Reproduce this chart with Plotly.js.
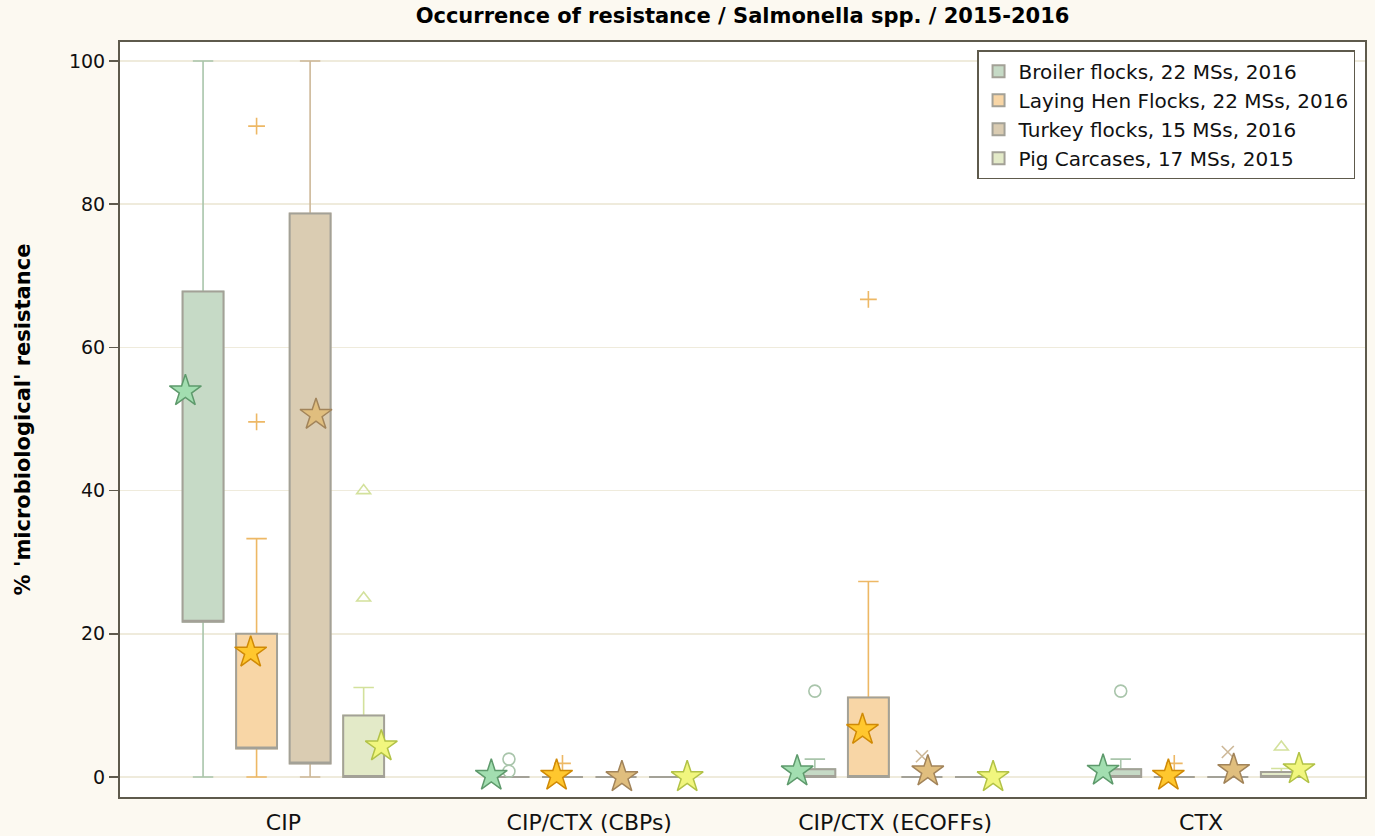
<!DOCTYPE html>
<html>
<head>
<meta charset="utf-8">
<script src="https://cdn.plot.ly/plotly-3.0.1.min.js"></script>
<style>html,body{margin:0;padding:0;background:#FCF9F1;}</style>
</head>
<body>
<div id="chart" style="width:1375px;height:836px;"></div>
<script>
// ---------- DATA ----------
const categories = ['CIP', 'CIP/CTX (CBPs)', 'CIP/CTX (ECOFFs)', 'CTX'];
const seriesNames = [
  'Broiler flocks, 22 MSs, 2016',
  'Laying Hen Flocks, 22 MSs, 2016',
  'Turkey flocks, 15 MSs, 2016',
  'Pig Carcases, 17 MSs, 2015'
];

// Broiler flocks
const broilerQ1 = [21.7, 0, 0, 0];
const broilerQ3 = [67.8, 0, 1.1, 1.1];
const broilerLow = [0, 0, 0, 0];
const broilerHigh = [100, 0, 2.5, 2.5];
const broilerMean = [53.9, 0.2, 0.8, 0.9];
const broilerOutCat = ['CIP/CTX (CBPs)', 'CIP/CTX (CBPs)', 'CIP/CTX (ECOFFs)', 'CTX'];
const broilerOutVal = [2.5, 0.8, 12, 12];

// Laying hen flocks
const layingQ1 = [4, 0, 0, 0];
const layingQ3 = [20, 0, 11.1, 0];
const layingLow = [0, 0, 0, 0];
const layingHigh = [33.3, 0, 27.3, 0];
const layingMean = [17.4, 0.2, 6.6, 0.2];
const layingOutCat = ['CIP', 'CIP', 'CIP/CTX (CBPs)', 'CIP/CTX (ECOFFs)', 'CTX'];
const layingOutVal = [90.9, 49.6, 1.9, 66.7, 1.9];

// Turkey flocks
const turkeyQ1 = [1.9, 0, 0, 0];
const turkeyQ3 = [78.7, 0, 0, 0];
const turkeyLow = [0, 0, 0, 0];
const turkeyHigh = [100, 0, 0, 0];
const turkeyMean = [50.6, 0, 0.8, 1.0];
const turkeyOutCat = ['CIP/CTX (ECOFFs)', 'CTX'];
const turkeyOutVal = [2.9, 3.5];

// Pig carcases
const pigQ1 = [0, 0, 0, 0];
const pigQ3 = [8.6, 0, 0, 0.7];
const pigLow = [0, 0, 0, 0];
const pigHigh = [12.5, 0, 0, 1.2];
const pigMean = [4.3, 0, 0, 1.1];
const pigOutCat = ['CIP', 'CIP', 'CTX'];
const pigOutVal = [40, 25, 4.2];

// ---------- STYLE ----------
const styles = [
  {fill: '#C6DAC6', whisker: '#A9C5AB', star: '#A2DEB0', starLine: '#5E9A6C', sym: 'circle-open'},
  {fill: '#F8D6A6', whisker: '#EDB865', star: '#FFC72E', starLine: '#D08A06', sym: 'cross-thin-open'},
  {fill: '#DACCB2', whisker: '#CDB898', star: '#E0BE7E', starLine: '#A2845A', sym: 'x-thin-open'},
  {fill: '#E3EAC8', whisker: '#D3E19C', star: '#F1F67E', starLine: '#B2C247', sym: 'triangle-up-open'}
];
const groups = ['broiler', 'laying', 'turkey', 'pig'];
const allQ1 = [broilerQ1, layingQ1, turkeyQ1, pigQ1];
const allQ3 = [broilerQ3, layingQ3, turkeyQ3, pigQ3];
const allLow = [broilerLow, layingLow, turkeyLow, pigLow];
const allHigh = [broilerHigh, layingHigh, turkeyHigh, pigHigh];
const allMean = [broilerMean, layingMean, turkeyMean, pigMean];
const allOutCat = [broilerOutCat, layingOutCat, turkeyOutCat, pigOutCat];
const allOutVal = [broilerOutVal, layingOutVal, turkeyOutVal, pigOutVal];

const FONT = 'DejaVu Sans, Liberation Sans, Arial, sans-serif';
const traces = [];
const starTraces = [];

groups.forEach((g, i) => {
  const st = styles[i];
  // whiskers (no median line is shown in the reference: it is placed on Q1 so it is hidden)
  traces.push({
    type: 'box', x: categories, q1: allQ1[i], median: allQ1[i], q3: allQ3[i],
    lowerfence: allLow[i], upperfence: allHigh[i],
    offsetgroup: g, name: seriesNames[i], showlegend: false,
    line: {color: st.whisker, width: 1.6}, fillcolor: 'rgba(0,0,0,0)',
    whiskerwidth: 0.5, hoverinfo: 'skip'
  });
  // box body with grey outline
  traces.push({
    type: 'box', x: categories, q1: allQ1[i], median: allQ1[i], q3: allQ3[i],
    lowerfence: allQ1[i], upperfence: allQ3[i],
    offsetgroup: g, name: seriesNames[i], showlegend: true,
    line: {color: '#A3A197', width: 2}, fillcolor: st.fill,
    whiskerwidth: 0, hoverinfo: 'skip'
  });
  // outliers
  traces.push({
    type: 'box', x: allOutCat[i], y: allOutVal[i],
    offsetgroup: g, name: seriesNames[i], showlegend: false,
    boxpoints: 'all', jitter: 0, pointpos: 0,
    line: {color: 'rgba(0,0,0,0)', width: 0}, fillcolor: 'rgba(0,0,0,0)',
    marker: {symbol: st.sym, size: 12, color: st.whisker, line: {color: st.whisker, width: 1.6}},
    hoverinfo: 'skip'
  });
  // means (stars)
  starTraces.push({
    type: 'scatter', mode: 'markers', x: categories, y: allMean[i],
    offsetgroup: g, name: seriesNames[i], showlegend: false,
    marker: {symbol: 'star', size: 24, color: st.star, line: {color: st.starLine, width: 1.5}},
    hoverinfo: 'skip'
  });
});

const layout = {
  width: 1375, height: 836,
  paper_bgcolor: '#FCF9F1', plot_bgcolor: '#FFFFFF',
  margin: {l: 120, r: 10, t: 42, b: 39, pad: 0},
  font: {family: FONT, color: '#111'},
  title: {
    text: 'Occurrence of resistance / Salmonella spp. / 2015-2016',
    font: {family: FONT, size: 21, color: '#000', weight: 'bold'},
    x: 0.5, xref: 'paper', xanchor: 'center', y: 1 - 16 / 836, yref: 'container', yanchor: 'middle'
  },
  boxmode: 'group', boxgap: 0.3, boxgroupgap: 0.236,
  scattermode: 'group', scattergap: 0.146,
  xaxis: {
    type: 'category', categoryorder: 'array', categoryarray: categories,
    range: [-0.534, 3.536], showgrid: false, zeroline: false,
    showline: true, linecolor: '#5E5A4C', linewidth: 2, mirror: true,
    ticks: '', ticklabelstandoff: 5, tickfont: {family: FONT, size: 22, color: '#111'}
  },
  yaxis: {
    range: [-2.79, 102.65], tickvals: [0, 20, 40, 60, 80, 100],
    showgrid: true, gridcolor: '#EFEBDC', gridwidth: 1.5, zeroline: false,
    showline: true, linecolor: '#5E5A4C', linewidth: 2, mirror: true,
    ticks: 'outside', ticklen: 9, tickwidth: 1.5, tickcolor: '#5E5A4C',
    tickfont: {family: FONT, size: 19, color: '#111'},
    title: {text: "% 'microbiological' resistance", font: {family: FONT, size: 21, color: '#000', weight: 'bold'}, standoff: 33}
  },
  legend: {
    x: 0.992, xanchor: 'right', y: 0.989, yanchor: 'top',
    bgcolor: '#FFFFFF', bordercolor: '#5E5A4C', borderwidth: 1.5,
    font: {family: FONT, size: 20, color: '#111'}, tracegroupgap: 0, traceorder: 'normal'
  },
  showlegend: true
};

Plotly.newPlot('chart', traces.concat(starTraces), layout, {displayModeBar: false, staticPlot: true});
</script>
</body>
</html>
